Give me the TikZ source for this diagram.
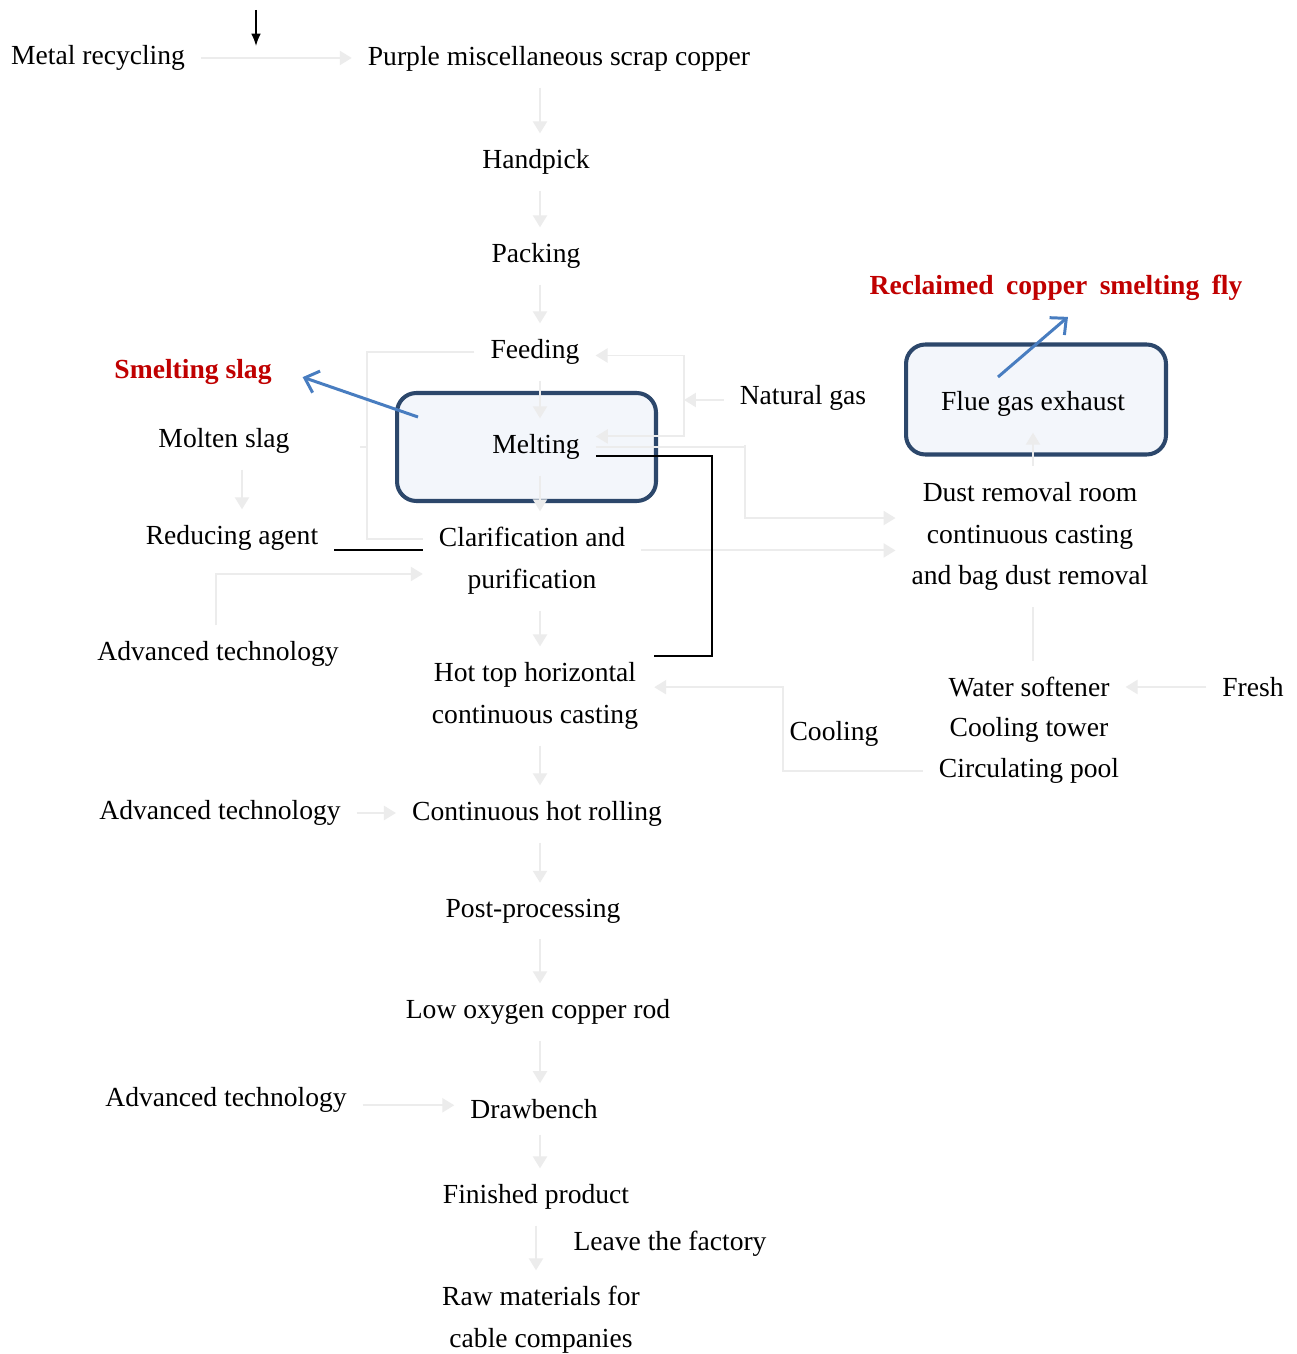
\documentclass[tikz,border=0pt]{standalone}
\usepackage{fontspec}
\setmainfont{Liberation Serif}
\usetikzlibrary{arrows.meta,calc}
\definecolor{faint}{RGB}{236,236,236}
\definecolor{boxblue}{RGB}{44,71,107}
\definecolor{boxfill}{RGB}{243,246,251}
\definecolor{arrblue}{RGB}{72,125,192}
\definecolor{redtxt}{RGB}{192,0,0}
\newcommand\fsz{\fontsize{15.7}{23.8}\selectfont}
\begin{document}
\begin{tikzpicture}[x=0.02cm,y=-0.02cm,
  txt/.style={font=\fsz, inner sep=9pt, align=center, yshift=-1.7pt},
  redlbl/.style={font=\fsz\bfseries, text=redtxt, inner sep=9pt, yshift=-1.7pt},
  fa/.style={draw=faint, line width=1.1pt, -{Triangle[length=6.8pt,width=8pt]}},
  fl/.style={draw=faint, line width=1.1pt},
  blk/.style={draw=black, line width=0.9pt},
  bluearr/.style={draw=arrblue, line width=1.7pt, -{Straight Barb[length=7pt,width=13pt]}},
  rbox/.style={draw=boxblue, line width=2.3pt, fill=boxfill, rounded corners=11pt, minimum width=5.18cm, minimum height=2.16cm}]
\useasboundingbox (0,0) rectangle (1296,1354);
\fill[white] (0,0) rectangle (1296,1354);

% boxes
\node[rbox] (meltbox) at (526.5,447) {};
\node[rbox, minimum width=5.2cm, minimum height=2.2cm] (fluebox) at (1036,399.5) {};

% main column
\node[txt] (metal) at (98,55) {Metal recycling};
\node[txt] (purple) at (559,56) {Purple miscellaneous scrap copper};
\node[txt] (hand) at (536,159) {Handpick};
\node[txt] (pack) at (536,253) {Packing};
\node[txt] (feed) at (535,349) {Feeding};
\node[txt] (melt) at (536,444) {Melting};
\node[txt] (clar) at (532,558) {Clarification and\\purification};
\node[txt] (hot) at (535,693) {Hot top horizontal\\continuous casting};
\node[txt] (cont) at (537,811) {Continuous hot rolling};
\node[txt] (post) at (533,908) {Post-processing};
\node[txt] (low) at (538,1009) {Low oxygen copper rod};
\node[txt] (drawb) at (534,1106) {Drawbench};
\node[txt] (fin) at (536,1194) {Finished product};
\node[txt] (leave) at (670,1241) {Leave the factory};
\node[txt] (raw) at (541,1317) {Raw materials for\\cable companies};

% left side
\node[redlbl] (slag) at (193,369) {Smelting slag};
\node[txt] (molten) at (224,438) {Molten slag};
\node[txt] (redu) at (232,535) {Reducing agent};
\node[txt] (adv1) at (218,651) {Advanced technology};
\node[txt] (adv2) at (220,810) {Advanced technology};
\node[txt] (adv3) at (226,1097) {Advanced technology};

% right side
\node[txt] (ng) at (803,395) {Natural gas};
\node[txt] (fluet) at (1033,401) {Flue gas exhaust};
\node[redlbl] (fly) at (1056,285) {Reclaimed\hspace{0.45em}copper\hspace{0.45em}smelting\hspace{0.45em}fly};
\node[txt] (dust) at (1030,533.5) {Dust removal room\\continuous casting\\and bag dust removal};
\node[txt] (ws) at (1029,684) {Water softener};
\node[txt] (ct) at (1029,727) {Cooling tower};
\node[txt] (cp) at (1029,768) {Circulating pool};
\node[txt] (fresh) at (1253,684) {Fresh};
\node[txt] (cool) at (834,731) {Cooling};

% helper coordinates
\coordinate (colx) at (540,0);
\coordinate (colf) at (536,0);
\coordinate (colr) at (1033,0);
\coordinate (c242) at (242,0);
\coordinate (ngj) at (684,400);
\coordinate (lb) at (367,447);
\coordinate (bk) at (712,656);
\coordinate (mj) at (745,445);
\coordinate (cb) at (783,765);
\coordinate (ta) at (256,10);
\coordinate (tb) at (256,46);
\coordinate (sb) at (418,417);
\coordinate (fb) at (998,377);

% top black arrow
\draw[blk, -{Latex[length=7pt,width=5.5pt]}] (ta) -- (tb);

% main flow (faint)
\draw[fa] (metal.east) -- (metal.east -| purple.west);
\draw[fa] (purple.south -| colx) -- (hand.north -| colx);
\draw[fa] (hand.south -| colx) -- (pack.north -| colx);
\draw[fa] (pack.south -| colx) -- (feed.north -| colx);
\draw[fa] (feed.south -| colx) -- (melt.north -| colx);
\draw[fa] (melt.south -| colx) -- (clar.north -| colx);
\draw[fa] (clar.south -| colx) -- (hot.north -| colx);
\draw[fa] (hot.south -| colx) -- (cont.north -| colx);
\draw[fa] (cont.south -| colx) -- (post.north -| colx);
\draw[fa] (post.south -| colx) -- (low.north -| colx);
\draw[fa] (low.south -| colx) -- (drawb.north -| colx);
\draw[fa] (drawb.south -| colx) -- (fin.north -| colx);
\draw[fa] (fin.south -| colf) -- (raw.north -| colf);

% left connectors
\draw[fa] (molten.south -| c242) -- (redu.north -| c242);
\draw[fl] (feed.west) -| (lb) |- ([yshift=12.5pt]clar.west);
\draw[fl] (lb) -- ++(-7,0);
\draw[blk] ([yshift=-7pt]redu.east) -- ([yshift=-7pt]redu.east -| clar.west);
\draw[fa] ([xshift=-1pt]adv1.north) |- ([yshift=-7.4pt]clar.west);
\draw[fa] (adv2.east) -- (adv2.east -| cont.west);
\draw[fa] ([yshift=-3pt]adv3.east) -- ([yshift=-3pt]adv3.east -| drawb.west);

% natural gas bracket
\draw[fa] (ngj -| ng.west) -- (ngj);
\draw[fa] (ngj) |- ([yshift=-2pt]feed.east);
\draw[fa] (ngj) |- ([yshift=6pt]melt.east);

% melting to dust removal
\draw[fl] (melt.east) -- (melt.east -| mj) -- (mj);
\draw[fa] (mj) |- ([yshift=10.5pt]dust.west);
\draw[fa] ([yshift=6pt]clar.east) -- ([yshift=6pt]clar.east -| dust.west);

% black connector melting -> hot top
\draw[blk] ([yshift=-5pt]melt.east) -| (bk) -- (bk -| hot.east);

% right side connectors
\draw[fa] (dust.north -| colr) -- (fluet.south -| colr);
\draw[fl] (dust.south -| colr) -- (ws.north -| colr);
\draw[fa] (fresh.west) -- (fresh.west -| ws.east);
\draw[fa] (cp.west) -| (cb) |- ([yshift=5pt]hot.east);

% blue arrows
\draw[bluearr, shorten >=9pt] (sb) -- (slag.east);
\draw[bluearr] (fb) -- ([xshift=6.8pt]fly.south);
\end{tikzpicture}
\end{document}
